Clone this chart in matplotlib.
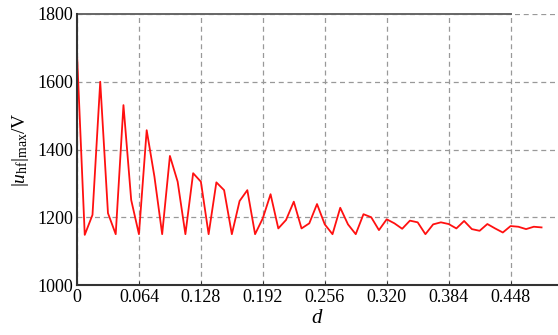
import matplotlib
matplotlib.use("Agg")
import matplotlib.pyplot as plt
import numpy as np

# sampled duty-ratio step of 0.008
d_step = 0.008
u_max = [
    1684, 1148, 1207, 1600, 1212, 1150, 1531, 1251, 1150, 1457,
    1320, 1150, 1381, 1305, 1150, 1330, 1305, 1150, 1303, 1280,
    1150, 1248, 1280, 1150, 1197, 1268, 1167, 1192, 1246, 1167,
    1182, 1239, 1179, 1150, 1228, 1179, 1150, 1209, 1200, 1162,
    1194, 1182, 1166, 1190, 1185, 1150, 1179, 1185, 1180, 1167,
    1189, 1165, 1160, 1180, 1167, 1155, 1174, 1172, 1165, 1172,
    1170,
]
d = np.arange(len(u_max)) * d_step

x_ticks = [0, 0.064, 0.128, 0.192, 0.256, 0.320, 0.384, 0.448]
x_tick_labels = ["0", "0.064", "0.128", "0.192", "0.256", "0.320", "0.384", "0.448"]
y_ticks = [1000, 1200, 1400, 1600, 1800]

plt.rcParams['font.family'] = ['Liberation Serif', 'DejaVu Serif']
plt.rcParams['mathtext.fontset'] = 'custom'
plt.rcParams['mathtext.rm'] = 'Liberation Serif'
plt.rcParams['mathtext.it'] = 'Liberation Serif:italic'

fig = plt.figure(figsize=(5.58, 3.35), dpi=100)
ax = fig.add_axes([77 / 558, 1 - 285 / 335, 1 - 77 / 558, (285 - 14) / 335])

ax.plot(d, u_max, color='#ff1010', linewidth=1.3)

ax.set_xlim(0, 0.497)
ax.set_ylim(1000, 1800)
ax.set_xticks(x_ticks)
ax.set_xticklabels(x_tick_labels)
ax.set_yticks(y_ticks)
ax.tick_params(axis='x', direction='in', length=3, width=0.6, colors='#222222',
               labelsize=13, labelcolor='black', pad=3)
ax.tick_params(axis='y', length=0, labelsize=13, pad=3)

ax.grid(True, linestyle=(0, (4, 3)), color='#999999', linewidth=0.9)
ax.axhline(1800, xmax=0.448 / 0.497, color='#666666', linewidth=1.4, clip_on=False)

for side in ['top', 'right']:
    ax.spines[side].set_visible(False)
for side in ['left', 'bottom']:
    ax.spines[side].set_color('#333333')
    ax.spines[side].set_linewidth(1.5)

ax.set_xlabel(r'$d$', fontsize=15, labelpad=2)
ax.set_ylabel(r'$|u_{\rm hf}|_{\rm max}$/V', fontsize=14, labelpad=4)

fig.savefig('out.png', dpi=100)
